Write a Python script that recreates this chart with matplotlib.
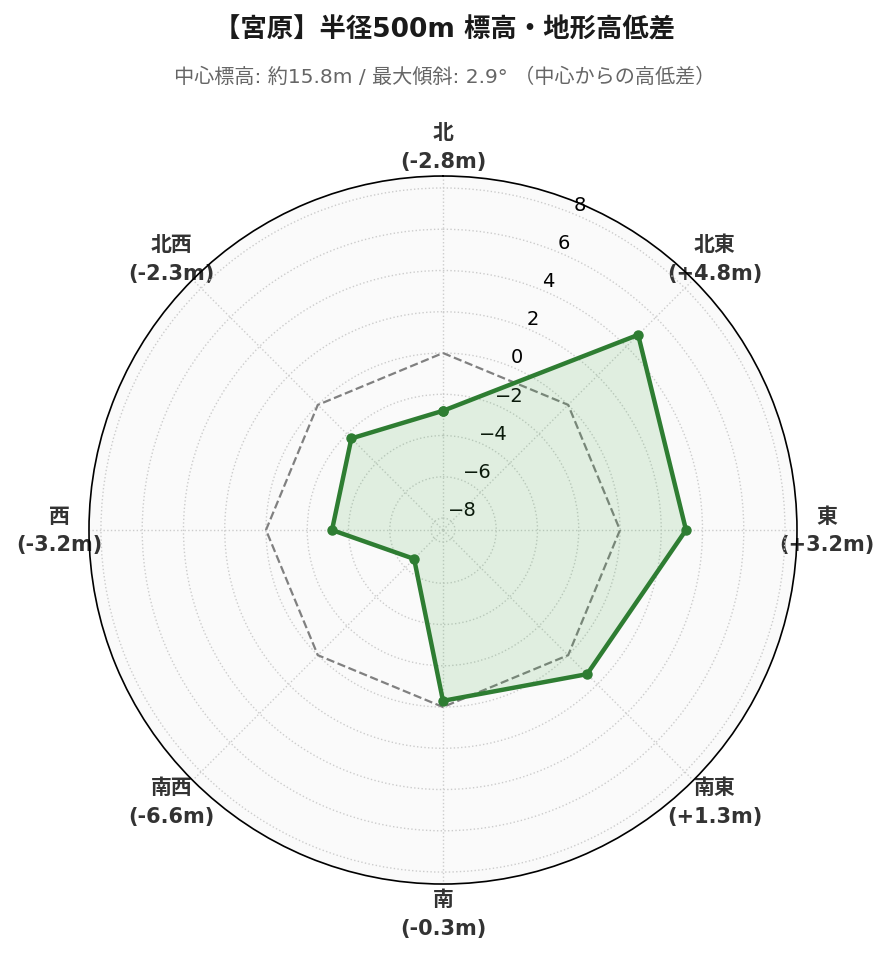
import numpy as np
import matplotlib
matplotlib.use("Agg")
import matplotlib.pyplot as plt

plt.rcParams['font.family'] = ['DejaVu Sans', 'Noto Sans CJK JP']

directions = ["北", "北東", "東", "南東", "南", "南西", "西", "北西"]
diffs = [-2.8, 4.8, 3.2, 1.3, -0.3, -6.6, -3.2, -2.3]
rticks = [-8, -6, -4, -2, 0, 2, 4, 6, 8]
title = "【宮原】半径500m 標高・地形高低差"
subtitle = "中心標高: 約15.8m / 最大傾斜: 2.9° （中心からの高低差）"

fig = plt.figure(figsize=(8.89, 9.62), dpi=100)
ax = fig.add_axes([0.1001, 0.080, 0.7964, 0.736], projection='polar')
ax.set_theta_zero_location('N')
ax.set_theta_direction(-1)
ax.set_facecolor('#fafafa')

n = len(directions)
angles = np.linspace(0, 2 * np.pi, n, endpoint=False)
ang_c = np.concatenate([angles, angles[:1]])
vals_c = np.concatenate([diffs, diffs[:1]])
zero_c = np.zeros_like(ang_c)

lim = max(abs(v) for v in diffs) * 1.3
ax.set_ylim(-lim, lim)

ax.plot(ang_c, zero_c, color='gray', linestyle='--', linewidth=1.6, zorder=2)
ax.fill(ang_c, vals_c, color='#4caf50', alpha=0.15, zorder=2)
ax.plot(ang_c, vals_c, color='#2e7d32', linewidth=3.2, marker='o', markersize=6.5, zorder=3)

ax.set_yticks(rticks)
ax.set_yticklabels([f"{t}".replace('-', '\u2212') for t in rticks], fontsize=14)
ax.set_xticks(angles)
labels = [f"{d}\n({v:+.1f}m)" if v > 0 else f"{d}\n({v:.1f}m)" for d, v in zip(directions, diffs)]
ax.set_xticklabels(labels, fontsize=15, fontweight='bold', color='#333333', linespacing=1.55)
ax.tick_params(axis='x', pad=11)
ax.grid(True, color='#cccccc', linestyle=':', linewidth=1)
ax.spines['polar'].set_color('black')
ax.spines['polar'].set_linewidth(1.2)

fig.text(0.5, 0.968, title, ha='center', va='center', fontsize=19, fontweight='bold', color='#1a1a1a')
fig.text(0.5, 0.920, subtitle, ha='center', va='center', fontsize=14.5, color='#666666')

fig.savefig('out.png', dpi=100)
